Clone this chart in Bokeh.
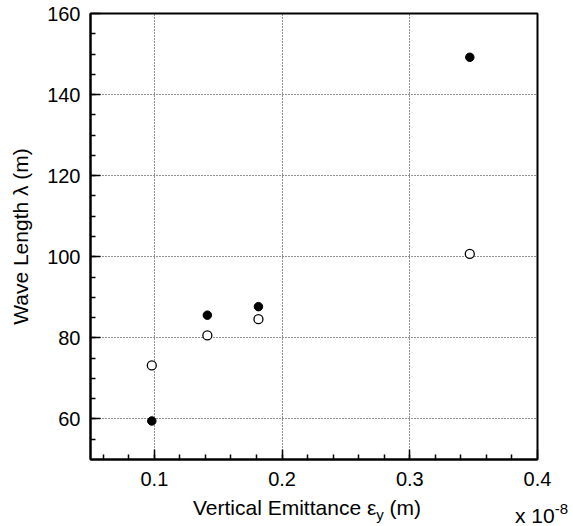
import numpy as np
from bokeh.plotting import figure
from bokeh.models import FixedTicker, Div
from bokeh.layouts import column
from bokeh.embed import file_html
from bokeh.resources import INLINE

# data
emit_filled = [0.098, 0.1415, 0.1815, 0.347]
wave_filled = [59.5, 85.6, 87.7, 149.2]
emit_open = [0.098, 0.1415, 0.1815, 0.347]
wave_open = [73.2, 80.6, 84.6, 100.7]
x_ticks = [0.1, 0.2, 0.3, 0.4]
y_ticks = [60, 80, 100, 120, 140, 160]
x_label_main = "Vertical Emittance \u03b5"
x_label_sub = "y"
x_label_unit = "(m)"
x_scale_base = "x 10"
x_scale_exp = "-8"
y_label = "Wave Length \u03bb (m)"

FONT = "Liberation Sans"
W = 573
H_FIG = 492
H_DIV = 526 - H_FIG
L, R, T, B = 90, 36, 13, H_FIG - 459
X0, X1 = 0.05, 0.4
Y0, Y1 = 50, 160

p = figure(width=W, height=H_FIG, x_range=(X0, X1), y_range=(Y0, Y1),
           output_backend="svg", toolbar_location=None,
           min_border_left=L, min_border_right=R, min_border_top=T, min_border_bottom=B)
p.background_fill_color = "white"
p.border_fill_color = "white"
p.outline_line_color = "black"
p.outline_line_width = 2

p.xaxis.ticker = FixedTicker(ticks=x_ticks, minor_ticks=[float(v) for v in np.round(np.arange(0.06, 0.4, 0.02), 3)])
p.yaxis.ticker = FixedTicker(ticks=y_ticks, minor_ticks=[float(v) for v in range(55, 160, 5)])

for ax in (p.xaxis[0], p.yaxis[0]):
    ax.axis_line_color = "black"
    ax.axis_line_width = 2
    ax.major_tick_in = 10
    ax.major_tick_out = 0
    ax.minor_tick_in = 5
    ax.minor_tick_out = 0
    ax.major_tick_line_color = "black"
    ax.minor_tick_line_color = "black"
    ax.major_tick_line_width = 1.5
    ax.minor_tick_line_width = 1.5
    ax.major_label_text_font = FONT
    ax.major_label_text_font_size = "20px"
    ax.major_label_text_color = "black"
    ax.axis_label_text_font = FONT
    ax.axis_label_text_font_style = "normal"
    ax.axis_label_text_font_size = "21px"
    ax.axis_label_text_color = "black"

p.xaxis.major_label_standoff = 12
p.yaxis.major_label_standoff = 10
p.yaxis.axis_label = y_label
p.yaxis.axis_label_standoff = 12

p.xgrid.ticker = FixedTicker(ticks=x_ticks[:-1])
p.ygrid.ticker = FixedTicker(ticks=y_ticks[:-1])
for g in (p.xgrid[0], p.ygrid[0]):
    g.grid_line_color = "#222222"
    g.grid_line_dash = "1 2"
    g.grid_line_width = 1

p.scatter(emit_open, wave_open, marker="circle", size=9, fill_color="white",
          line_color="black", line_width=1.3)
p.scatter(emit_filled, wave_filled, marker="circle", size=8.5, fill_color="black",
          line_color="black")

html = (
    f'<div style="position:relative;width:{W}px;height:{H_DIV}px;overflow:visible;'
    f'font-family:\'{FONT}\';color:black;">'
    f'<span style="position:absolute;left:193px;top:5px;font-size:21px;line-height:21px;white-space:nowrap;">'
    f'{x_label_main}<span style="font-size:15px;position:relative;top:5px;">{x_label_sub}</span> {x_label_unit}</span>'
    f'<span style="position:absolute;right:5px;top:13px;font-size:21px;line-height:21px;white-space:nowrap;">'
    f'{x_scale_base}<span style="font-size:15px;position:relative;top:-9px;">{x_scale_exp}</span></span>'
    '</div>'
)
div = Div(text=html, width=W, height=H_DIV, margin=(0, 0, 0, 0))

page = column(p, div, spacing=0)
open("out.html", "w").write(file_html(page, INLINE))
